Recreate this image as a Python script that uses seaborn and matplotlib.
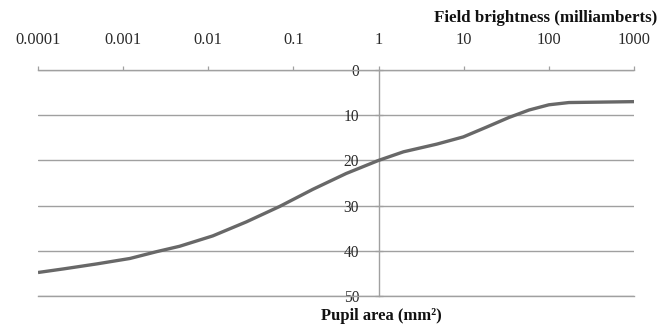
import matplotlib
matplotlib.use("Agg")
import matplotlib.pyplot as plt
import seaborn as sns
import pandas as pd
from matplotlib.ticker import FixedLocator, FixedFormatter, NullLocator

# Data
brightness = [0.0001, 0.0002, 0.00049, 0.0012, 0.00246, 0.0046, 0.0113, 0.028,
              0.0687, 0.169, 0.416, 1.0, 1.96, 4.83, 9.9, 18.2, 34.0, 58.6,
              100.0, 172.0, 424.0, 1000.0]
pupil_area = [44.8, 44.0, 42.9, 41.7, 40.2, 39.0, 36.7, 33.6,
              30.2, 26.4, 22.9, 20.0, 18.1, 16.4, 14.8, 12.7, 10.5, 8.85,
              7.7, 7.2, 7.1, 7.0]

x_ticks = [0.0001, 0.001, 0.01, 0.1, 1, 10, 100, 1000]
x_tick_labels = ["0.0001", "0.001", "0.01", "0.1", "1", "10", "100", "1000"]
y_ticks = [0, 10, 20, 30, 40, 50]
y_tick_labels = ["0", "10", "20", "30", "40", "50"]

x_title = "Field brightness (milliamberts)"
y_title = "Pupil area (mm\u00b2)"

df = pd.DataFrame({"brightness": brightness, "pupil": pupil_area})

sns.set_theme(style="white")
plt.rcParams["font.family"] = ["Liberation Serif", "DejaVu Serif"]

fig = plt.figure(figsize=(6.7, 3.25), dpi=100)
ax = fig.add_axes([38 / 670, 1 - 296 / 325, (634 - 38) / 670, (296 - 70) / 325])

grid_color = "#a0a0a0"
text_color = "#2a2a2a"

sns.lineplot(data=df, x="brightness", y="pupil", ax=ax, color="#686868",
             linewidth=2.4, zorder=3, solid_joinstyle="round",
             solid_capstyle="butt")

ax.set_xscale("log")
ax.set_xlim(0.0001, 1000)
ax.set_ylim(50, 0)

ax.xaxis.set_major_locator(FixedLocator(x_ticks))
ax.xaxis.set_major_formatter(FixedFormatter(x_tick_labels))
ax.xaxis.set_minor_locator(NullLocator())
ax.xaxis.tick_top()
ax.tick_params(axis="x", which="major", top=True, bottom=False, direction="out",
               length=3, width=0.9, color=grid_color, pad=13,
               labelsize=11.8, labelcolor=text_color)

ax.yaxis.set_major_locator(FixedLocator(y_ticks))
ax.yaxis.set_major_formatter(FixedFormatter(y_tick_labels))
ax.tick_params(axis="y", which="major", left=True, direction="inout", length=6,
               width=0.9, color=grid_color, pad=11, labelsize=11.2,
               labelcolor=text_color)

ax.grid(axis="y", color=grid_color, linewidth=1.0, zorder=1)
ax.grid(axis="x", visible=False)

ax.spines["right"].set_visible(False)
for side in ["top", "bottom", "left"]:
    ax.spines[side].set_color(grid_color)
    ax.spines[side].set_linewidth(1.0)
ax.spines["left"].set_position(("data", 1))

ax.set_xlabel("")
ax.set_ylabel("")

fig.text(657 / 670, 1 - 18 / 325, x_title, ha="right", va="center",
         fontsize=12.2, fontweight="bold", color="#111111")
fig.text(381 / 670, 1 - 316 / 325, y_title, ha="center", va="center",
         fontsize=12, fontweight="bold", color="#111111")

fig.savefig("out.png", dpi=100)
